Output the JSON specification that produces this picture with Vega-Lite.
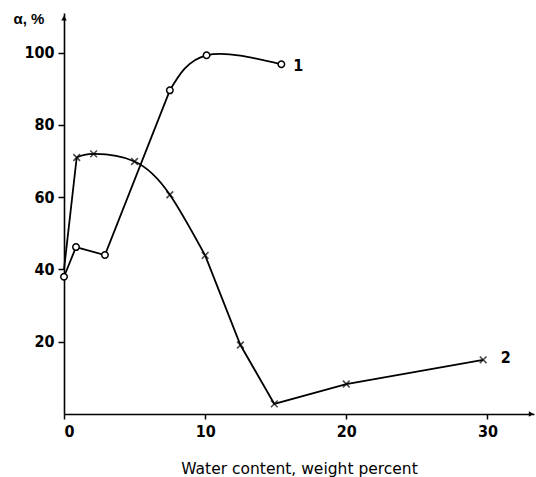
{
  "$schema": "https://vega.github.io/schema/vega-lite/v6.json",
  "width": 470,
  "height": 401,
  "autosize": "none",
  "padding": {"left": 64, "top": 13, "right": 2, "bottom": 63},
  "background": "white",
  "config": {
    "view": {"stroke": null},
    "axis": {"grid": false, "domainColor": "black", "tickColor": "black", "domainWidth": 1.6, "tickWidth": 1.5, "labelColor": "black", "titleColor": "black"}
  },
  "datasets": {
    "curves": [
      {"series": "1", "w": 0, "a": 38},
      {"series": "1", "w": 0.85, "a": 46.2},
      {"series": "1", "w": 2.9, "a": 44},
      {"series": "1", "w": 7.5, "a": 89.6},
      {"series": "1", "w": 10.1, "a": 99.3},
      {"series": "1", "w": 15.4, "a": 96.8},
      {"series": "2", "w": 0, "a": 40},
      {"series": "2", "w": 0.9, "a": 71},
      {"series": "2", "w": 2.1, "a": 72},
      {"series": "2", "w": 5.0, "a": 69.9},
      {"series": "2", "w": 7.5, "a": 60.7},
      {"series": "2", "w": 10.0, "a": 43.9},
      {"series": "2", "w": 12.5, "a": 19.1},
      {"series": "2", "w": 14.9, "a": 2.8},
      {"series": "2", "w": 20.0, "a": 8.3},
      {"series": "2", "w": 29.7, "a": 15.0}
    ],
    "labels": [
      {"series": "1", "w": 16.6, "a": 96.3},
      {"series": "2", "w": 31.3, "a": 15.4}
    ],
    "arrows": [
      {"w": 0, "a": 109.6, "dir": "up"},
      {"w": 33.1, "a": 0, "dir": "right"}
    ]
  },
  "layer": [
    {
      "data": {"name": "curves"},
      "transform": [{"filter": "datum.series == '1' && datum.w <= 7.5"}],
      "mark": {"type": "line", "interpolate": "linear", "color": "black", "strokeWidth": 1.8},
      "encoding": {
        "x": {
          "field": "w", "type": "quantitative",
          "scale": {"domain": [0, 33.3], "nice": false},
          "axis": {
            "values": [0, 10, 20, 30], "title": "Water content, weight percent",
            "labelFont": "Liberation Sans Narrow, DejaVu Sans Condensed, sans-serif",
            "labelFontWeight": "bold", "labelFontSize": 16, "labelPadding": 4, "tickSize": 5,
            "titleFont": "DejaVu Sans, sans-serif", "titleFontWeight": "normal",
            "titleFontSize": 15.5, "titlePadding": 22
          }
        },
        "y": {
          "field": "a", "type": "quantitative",
          "scale": {"domain": [0, 111], "nice": false},
          "axis": {
            "values": [20, 40, 60, 80, 100], "title": "α, %",
            "labelFont": "Liberation Sans Narrow, DejaVu Sans Condensed, sans-serif",
            "labelFontWeight": "bold", "labelFontSize": 16, "labelPadding": 4, "tickSize": 6,
            "titleFont": "Liberation Sans, Arial, sans-serif", "titleFontWeight": "bold",
            "titleFontSize": 15, "titleAngle": 0, "titleAlign": "left",
            "titleBaseline": "alphabetic", "titleX": -51, "titleY": 10
          }
        }
      }
    },
    {
      "data": {"name": "curves"},
      "transform": [{"filter": "datum.series == '1' && datum.w >= 7.5"}],
      "mark": {"type": "line", "interpolate": "natural", "color": "black", "strokeWidth": 1.8},
      "encoding": {
        "x": {"field": "w", "type": "quantitative"},
        "y": {"field": "a", "type": "quantitative"}
      }
    },
    {
      "data": {"name": "curves"},
      "transform": [{"filter": "datum.series == '2' && datum.w <= 0.9"}],
      "mark": {"type": "line", "interpolate": "linear", "color": "black", "strokeWidth": 1.8},
      "encoding": {
        "x": {"field": "w", "type": "quantitative"},
        "y": {"field": "a", "type": "quantitative"}
      }
    },
    {
      "data": {"name": "curves"},
      "transform": [{"filter": "datum.series == '2' && datum.w >= 0.9 && datum.w <= 10"}],
      "mark": {"type": "line", "interpolate": "natural", "color": "black", "strokeWidth": 1.8},
      "encoding": {
        "x": {"field": "w", "type": "quantitative"},
        "y": {"field": "a", "type": "quantitative"}
      }
    },
    {
      "data": {"name": "curves"},
      "transform": [{"filter": "datum.series == '2' && datum.w >= 10"}],
      "mark": {"type": "line", "interpolate": "linear", "color": "black", "strokeWidth": 1.8},
      "encoding": {
        "x": {"field": "w", "type": "quantitative"},
        "y": {"field": "a", "type": "quantitative"}
      }
    },
    {
      "data": {"name": "curves"},
      "transform": [{"filter": "datum.series == '2' && datum.w > 0"}],
      "mark": {"type": "point", "shape": "M-1,-1L1,1M-1,1L1,-1", "filled": false, "color": "black", "strokeWidth": 1.6, "size": 45},
      "encoding": {
        "x": {"field": "w", "type": "quantitative"},
        "y": {"field": "a", "type": "quantitative"}
      }
    },
    {
      "data": {"name": "curves"},
      "transform": [{"filter": "datum.series == '1'"}],
      "mark": {"type": "point", "shape": "circle", "filled": true, "fill": "white", "stroke": "black", "strokeWidth": 1.5, "size": 42, "opacity": 1},
      "encoding": {
        "x": {"field": "w", "type": "quantitative"},
        "y": {"field": "a", "type": "quantitative"}
      }
    },
    {
      "data": {"name": "labels"},
      "mark": {"type": "text", "font": "Liberation Sans Narrow, DejaVu Sans Condensed, sans-serif", "fontWeight": "bold", "fontSize": 16, "align": "center", "baseline": "middle", "color": "black"},
      "encoding": {
        "x": {"field": "w", "type": "quantitative"},
        "y": {"field": "a", "type": "quantitative"},
        "text": {"field": "series"}
      }
    },
    {
      "data": {"name": "arrows"},
      "mark": {"type": "point", "filled": true, "color": "black", "size": 30, "opacity": 1},
      "encoding": {
        "x": {"field": "w", "type": "quantitative"},
        "y": {"field": "a", "type": "quantitative"},
        "shape": {"field": "dir", "type": "nominal", "scale": {"domain": ["up", "right"], "range": ["triangle-up", "triangle-right"]}, "legend": null}
      }
    }
  ]
}
